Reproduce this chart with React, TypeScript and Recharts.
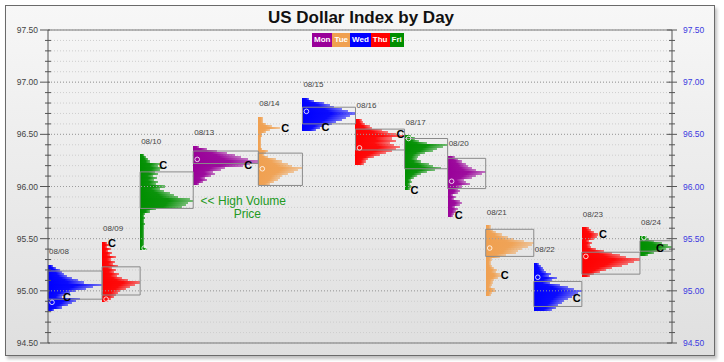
import React from "react";
import {
  ComposedChart,
  XAxis,
  YAxis,
  Scatter,
  ReferenceArea,
  ReferenceLine,
  ReferenceDot,
  CartesianGrid,
} from "recharts";

// one market profile per trading day, volume per 0.02 price step starting at profileLows
const days = ["08/08", "08/09", "08/10", "08/13", "08/14", "08/15", "08/16", "08/17", "08/20", "08/21", "08/22", "08/23", "08/24"];
const weekdays = ["Wed", "Thu", "Fri", "Mon", "Tue", "Wed", "Thu", "Fri", "Mon", "Tue", "Wed", "Thu", "Fri"];
const profileLows = [94.82, 94.9, 95.4, 96.02, 96.02, 96.54, 96.22, 95.98, 95.72, 94.96, 94.82, 95.14, 95.34];
const profiles = [
  [6, 14, 20, 24, 28, 32, 14, 16, 22, 28, 38, 45, 54, 36, 30, 24, 19, 16, 14, 12, 8, 5],
  [6, 9, 12, 14, 16, 18, 24, 28, 33, 38, 26, 20, 15, 17, 12, 14, 10, 16, 11, 13, 9, 14, 8, 10, 6, 9, 5, 7, 5],
  [7, 4, 4, 4, 4, 4, 4, 4, 4, 4, 4, 4, 5, 4, 4, 5, 4, 5, 10, 16, 42, 46, 48, 53, 50, 38, 34, 30, 24, 20, 25, 16, 18, 14, 17, 13, 18, 15, 20, 22, 18, 20, 10, 8, 6, 4],
  [6, 10, 14, 12, 18, 22, 20, 28, 32, 50, 57, 65, 55, 48, 42, 34, 24, 14, 6],
  [12, 16, 20, 22, 24, 30, 36, 40, 44, 34, 30, 24, 18, 10, 6, 8, 10, 4, 3, 3, 3, 3, 3, 4, 4, 8, 12, 22, 14, 8, 5, 5, 5],
  [14, 18, 22, 30, 34, 40, 44, 48, 53, 46, 40, 32, 28, 22, 12, 7],
  [8, 10, 12, 18, 24, 30, 36, 40, 44, 38, 34, 40, 36, 49, 40, 32, 26, 16, 14, 9, 7, 6],
  [5, 6, 5, 7, 6, 9, 12, 16, 22, 30, 36, 28, 24, 16, 12, 13, 15, 20, 28, 32, 38, 43, 22, 14, 10, 6],
  [5, 6, 8, 10, 7, 12, 14, 12, 6, 8, 5, 10, 12, 10, 14, 22, 18, 16, 24, 28, 34, 38, 28, 24, 20, 18, 14, 10, 7],
  [5, 6, 10, 9, 5, 6, 7, 8, 12, 15, 14, 10, 11, 8, 6, 5, 5, 6, 14, 20, 30, 32, 36, 42, 46, 48, 38, 28, 22, 16, 10, 7, 5, 5],
  [18, 22, 24, 28, 30, 34, 38, 42, 44, 48, 40, 34, 26, 16, 18, 23, 15, 17, 12, 10, 9, 7, 5],
  [8, 12, 18, 24, 30, 40, 46, 52, 58, 44, 38, 30, 22, 14, 9, 8, 10, 7, 12, 15, 16, 12, 9, 7],
  [8, 14, 20, 26, 32, 28, 22, 14, 9, 7],
];
const opens = [94.89, 94.92, 95.41, 96.26, 96.17, 96.72, 96.37, 96.46, 96.05, 95.41, 95.13, 95.33, 95.51];
const closes = [94.94, 95.46, 96.21, 96.21, 96.56, 96.57, 96.5, 95.97, 95.73, 95.15, 94.93, 95.54, 95.41];
const valueLows = [94.92, 94.96, 95.79, 96.22, 96.01, 96.6, 96.35, 96.17, 95.98, 95.33, 94.85, 95.16, 95.38];
const valueHighs = [95.19, 95.23, 96.14, 96.34, 96.32, 96.76, 96.55, 96.46, 96.27, 95.59, 95.09, 95.37, 95.48];
const priceTicks = [
  94.5, 94.6, 94.7, 94.8, 94.9, 95.0, 95.1, 95.2, 95.3, 95.4, 95.5, 95.6, 95.7, 95.8, 95.9, 96.0,
  96.1, 96.2, 96.3, 96.4, 96.5, 96.6, 96.7, 96.8, 96.9, 97.0, 97.1, 97.2, 97.3, 97.4, 97.5,
];
const majorTicks = [95.0, 95.5, 96.0, 96.5, 97.0];
const legendDays = ["Mon", "Tue", "Wed", "Thu", "Fri"];
const STEP = 0.02;

const COLORS: Record<string, string> = {
  Mon: "#990099",
  Tue: "#f0a050",
  Wed: "#0000ff",
  Thu: "#ff0000",
  Fri: "#008f00",
};

// each day starts where the previous day's widest row ends
const maxWidths = profiles.map((p) => Math.max(...p));
const starts = maxWidths.map((_, i) => maxWidths.slice(0, i).reduce((a, b) => a + b, 0));
const totalWidth = maxWidths.reduce((a, b) => a + b, 0);

const rows = profiles.flatMap((p, i) =>
  p.map((vol, j) => ({ day: i, price: +(profileLows[i] + j * STEP).toFixed(2), vol }))
);

const widthAt = (i: number, price: number) => {
  const p = profiles[i];
  const idx = Math.min(p.length - 1, Math.max(0, Math.round((price - profileLows[i]) / STEP)));
  return p[idx];
};

const openPoints = days.map((d, i) => ({ x: starts[i], y: opens[i], day: d }));
const closePoints = days.map((d, i) => ({
  x: Math.min(starts[i] + widthAt(i, closes[i]), totalWidth - 17),
  y: closes[i],
  day: d,
}));
const labelPoints = days.map((d, i) => ({
  x: starts[i],
  y: profileLows[i] + (profiles[i].length - 1) * STEP,
  day: d,
}));

const isMajor = (v: number) => Math.abs(v * 2 - Math.round(v * 2)) < 1e-6;

const LeftTick = (props: any) => {
  const { x, y, payload } = props;
  const v = payload.value;
  const major = isMajor(v);
  return (
    <g>
      <line x1={major ? x - 8 : x - 3} x2={major ? x + 2 : x + 3} y1={y} y2={y} stroke="#555" />
      {major && (
        <text x={x - 10} y={y} textAnchor="end" dominantBaseline="central" fontSize={8.5} fill="#444">
          {v.toFixed(2)}
        </text>
      )}
    </g>
  );
};

const RightTick = (props: any) => {
  const { x, y, payload } = props;
  const v = payload.value;
  const major = isMajor(v);
  return (
    <g>
      <line x1={major ? x - 5 : x - 3} x2={major ? x + 5 : x + 3} y1={y} y2={y} stroke="#555" />
      {major && (
        <text x={x + 11} y={y} textAnchor="start" dominantBaseline="central" fontSize={8.5} fill="#3b3be0">
          {v.toFixed(2)}
        </text>
      )}
    </g>
  );
};

export default function App() {
  return (
    <div
      style={{
        position: "absolute",
        left: 0,
        top: 0,
        width: 724,
        height: 362,
        background: "#fff",
        fontFamily: '"Liberation Sans", Arial, sans-serif',
      }}
    >
      <div
        style={{
          position: "absolute",
          left: 5,
          top: 5,
          width: 708,
          height: 349,
          border: "1px solid #6a6a6a",
          background: "linear-gradient(#f7f7f7, #dfdfdf)",
          boxShadow: "2px 3px 3px rgba(0,0,0,0.25)",
        }}
      />
      <div style={{ position: "absolute", left: 0, top: 0 }}>
        <ComposedChart width={724} height={362} margin={{ top: 30, right: 0, bottom: 19, left: 0 }}>
          <defs>
            {legendDays.map((d) => (
              <linearGradient key={d} id={`pf-${d}`} x1="0" y1="0" x2="1" y2="0">
                <stop offset="0" stopColor={COLORS[d]} stopOpacity={1} />
                <stop offset="0.55" stopColor={COLORS[d]} stopOpacity={0.95} />
                <stop offset="1" stopColor={COLORS[d]} stopOpacity={0.5} />
              </linearGradient>
            ))}
          </defs>
          <CartesianGrid vertical={false} stroke="#cdcdcd" strokeDasharray="1 2" />
          <XAxis type="number" dataKey="x" domain={[0, totalWidth]} hide allowDataOverflow />
          <YAxis
            type="number"
            dataKey="y"
            orientation="left"
            width={48}
            domain={[94.5, 97.5]}
            ticks={priceTicks}
            interval={0}
            tickSize={0}
            tickMargin={0}
            tickLine={false}
            axisLine={{ stroke: "#555" }}
            tick={<LeftTick />}
            allowDataOverflow
          />
          <YAxis
            yAxisId="right"
            type="number"
            orientation="right"
            width={52}
            domain={[94.5, 97.5]}
            ticks={priceTicks}
            interval={0}
            tickSize={0}
            tickMargin={0}
            tickLine={false}
            axisLine={{ stroke: "#555" }}
            tick={<RightTick />}
            allowDataOverflow
          />
          {majorTicks.map((t) => (
            <ReferenceLine key={`m${t}`} y={t} stroke="#9c9c9c" strokeDasharray="1 2" />
          ))}
          <ReferenceLine y={97.5} stroke="#777" />
          <ReferenceLine y={94.5} stroke="#777" />
          {rows.map((r, k) => (
            <ReferenceArea
              key={`r${k}`}
              x1={starts[r.day]}
              x2={starts[r.day] + r.vol}
              y1={r.price - STEP / 2}
              y2={r.price + STEP / 2}
              fill={`url(#pf-${weekdays[r.day]})`}
              fillOpacity={1}
              stroke="none"
              shapeRendering="crispEdges"
            />
          ))}
          {days.map((d, i) => (
            <ReferenceArea
              key={`va${d}`}
              x1={starts[i]}
              x2={starts[i] + maxWidths[i]}
              y1={valueLows[i]}
              y2={valueHighs[i]}
              fill="none"
              fillOpacity={0}
              stroke="#8a8a8a"
              strokeWidth={1}
            />
          ))}
          <ReferenceDot x={195} y={95.86} r={0} stroke="none" label={{ value: "<< High Volume", position: "center", fill: "#229922", fontSize: 12 }} />
          <ReferenceDot x={199} y={95.735} r={0} stroke="none" label={{ value: "Price", position: "center", fill: "#229922", fontSize: 12 }} />
          <Scatter
            data={openPoints}
            isAnimationActive={false}
            shape={(p: any) => (
              <circle cx={p.cx + 4} cy={p.cy} r={2.3} fill="none" stroke="rgba(255,255,255,0.8)" strokeWidth={1} />
            )}
          />
          <Scatter
            data={closePoints}
            isAnimationActive={false}
            shape={(p: any) => (
              <text x={p.cx + 1} y={p.cy} dominantBaseline="central" fontSize={11} fontWeight="bold" fill="#000">
                C
              </text>
            )}
          />
          <Scatter
            data={labelPoints}
            isAnimationActive={false}
            shape={(p: any) => (
              <text x={p.cx + 1} y={p.cy - 14} dominantBaseline="central" fontSize={8} fill="#444">
                {p.payload.day}
              </text>
            )}
          />
        </ComposedChart>
      </div>
      <div
        style={{
          position: "absolute",
          left: 0,
          top: 8,
          width: 722,
          textAlign: "center",
          fontSize: 17,
          lineHeight: "20px",
          fontWeight: "bold",
          color: "#111",
        }}
      >
        US Dollar Index by Day
      </div>
      <div style={{ position: "absolute", left: 312, top: 33, display: "flex" }}>
        {legendDays.map((d) => (
          <div
            key={d}
            style={{
              background: COLORS[d],
              color: "#fff",
              fontSize: 8,
              fontWeight: "bold",
              height: 14,
              lineHeight: "14px",
              padding: "0 2px",
            }}
          >
            {d}
          </div>
        ))}
      </div>
    </div>
  );
}
